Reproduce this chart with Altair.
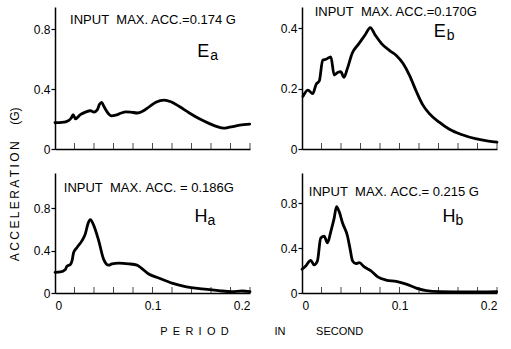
import altair as alt
import pandas as pd

# ---------------- data ----------------
ea_period = [0, 0.0072, 0.0141, 0.0168, 0.0186, 0.021, 0.026, 0.0313, 0.0364, 0.0399, 0.0433,
             0.0457, 0.0478, 0.0502, 0.0536, 0.058, 0.0622, 0.0674, 0.0725, 0.0777, 0.0845,
             0.0897, 0.0966, 0.1034, 0.112, 0.1189, 0.1275, 0.1378, 0.1481, 0.1584, 0.167,
             0.1729, 0.179, 0.1893, 0.1997]
ea_acc = [0.176, 0.178, 0.191, 0.209, 0.230, 0.202, 0.230, 0.247, 0.256, 0.247, 0.262,
          0.299, 0.312, 0.284, 0.247, 0.222, 0.226, 0.239, 0.249, 0.247, 0.241,
          0.252, 0.282, 0.312, 0.327, 0.316, 0.284, 0.241, 0.202, 0.170, 0.148,
          0.140, 0.146, 0.159, 0.166]

eb_period = [0.001, 0.006, 0.011, 0.0145, 0.0178, 0.0212, 0.0246, 0.0296, 0.033, 0.037, 0.0397,
             0.0431, 0.0465, 0.0515, 0.0582, 0.065, 0.07, 0.0751, 0.0818, 0.0902, 0.097,
             0.1037, 0.1104, 0.1172, 0.1239, 0.1306, 0.1407, 0.1508, 0.1643, 0.1778, 0.1912, 0.2]
eb_acc = [0.174, 0.195, 0.183, 0.214, 0.226, 0.294, 0.297, 0.305, 0.245, 0.254, 0.256,
          0.237, 0.266, 0.317, 0.348, 0.379, 0.402, 0.377, 0.348, 0.325, 0.309,
          0.283, 0.243, 0.191, 0.146, 0.117, 0.089, 0.066, 0.047, 0.034, 0.026, 0.023]

ha_period = [0, 0.0055, 0.0106, 0.0123, 0.0157, 0.0174, 0.0191, 0.0226, 0.0277, 0.0311, 0.0338,
             0.0362, 0.0397, 0.0448, 0.0499, 0.055, 0.0585, 0.0653, 0.0756, 0.0841, 0.0892,
             0.0961, 0.1063, 0.12, 0.1337, 0.1508, 0.1679, 0.1815, 0.1918, 0.2]
ha_acc = [0.195, 0.198, 0.221, 0.253, 0.269, 0.301, 0.381, 0.429, 0.493, 0.557, 0.653,
          0.691, 0.637, 0.493, 0.317, 0.262, 0.275, 0.282, 0.275, 0.262, 0.230,
          0.179, 0.141, 0.093, 0.061, 0.038, 0.022, 0.013, 0.019, 0.013]

hb_period = [0, 0.0038, 0.0089, 0.0124, 0.0158, 0.0192, 0.0227, 0.0261, 0.0296, 0.033, 0.0354,
             0.0381, 0.0416, 0.0467, 0.0491, 0.0519, 0.0553, 0.0588, 0.0639, 0.0708, 0.0777,
             0.0863, 0.0966, 0.1069, 0.1172, 0.1275, 0.1412, 0.1687, 0.1997]
hb_acc = [0.212, 0.241, 0.291, 0.250, 0.285, 0.491, 0.506, 0.447, 0.550, 0.668, 0.771,
          0.726, 0.624, 0.506, 0.403, 0.285, 0.262, 0.271, 0.232, 0.197, 0.144,
          0.115, 0.103, 0.079, 0.044, 0.021, 0.012, 0.009, 0.012]

x_tick_labels = [0, 0.1, 0.2]
x_minor_ticks = [0.02, 0.04, 0.06, 0.08, 0.1, 0.12, 0.14, 0.16, 0.18, 0.2]
y_ticks_big = [0, 0.2, 0.4, 0.6, 0.8]
y_labels_big = [0, 0.4, 0.8]
y_ticks_small = [0, 0.1, 0.2, 0.3, 0.4]
y_labels_small = [0, 0.2, 0.4]

notes = ["INPUT\u00a0\u00a0MAX. ACC.=0.174\u00a0G", "INPUT\u00a0\u00a0MAX. ACC.=0.170G",
         "INPUT\u00a0\u00a0MAX.\u00a0ACC.\u00a0=\u00a00.186G", "INPUT\u00a0\u00a0MAX.\u00a0ACC.=\u00a00.215\u00a0G"]
letters = ["E", "E", "H", "H"]
subs = ["a", "b", "a", "b"]

FONT = "Liberation Sans"
W = 195


def panel(xs, ys, ymax, yticks, ylabels, note, note_xy, letter, sub, letter_xy, bottom, height):
    df = pd.DataFrame({"period": xs, "acc": ys})
    xscale = alt.Scale(domain=[0, 0.2], nice=False)
    yscale = alt.Scale(domain=[0, ymax], nice=False)
    label_test = " || ".join(f"datum.value == {v}" for v in ylabels)
    xaxis = alt.Axis(values=x_tick_labels, labels=bottom, ticks=False, grid=False, title=None,
                     format="~g", labelPadding=7, labelFontSize=12,
                     minExtent=18 if bottom else 0, maxExtent=18 if bottom else 0)
    yaxis = alt.Axis(values=yticks, labelExpr=f"({label_test}) ? datum.label : ''",
                     grid=False, title=None, format="~g", tickSize=4, labelPadding=1,
                     labelFontSize=12, minExtent=30, maxExtent=30)
    X = alt.X("period:Q", scale=xscale, axis=xaxis)
    Y = alt.Y("acc:Q", scale=yscale, axis=yaxis)
    line = alt.Chart(df).mark_line(color="black", strokeWidth=2.8, interpolate="monotone",
                                   strokeJoin="round", strokeCap="round").encode(x=X, y=Y)
    ticks = alt.Chart(pd.DataFrame({"period": x_minor_ticks})).mark_tick(
        orient="vertical", size=6, thickness=1, color="black", yOffset=-3
    ).encode(x=X, y=alt.datum(0))
    one = pd.DataFrame({"k": [0]})
    txt = alt.Chart(one).mark_text(align="left", baseline="middle", font=FONT, fontSize=13,
                                   color="black").encode(
        x=alt.datum(note_xy[0]), y=alt.datum(note_xy[1]), text=alt.value(note))
    big = alt.Chart(one).mark_text(align="left", baseline="middle", font=FONT, fontSize=18,
                                   color="black").encode(
        x=alt.datum(letter_xy[0]), y=alt.datum(letter_xy[1]), text=alt.value(letter))
    small = alt.Chart(one).mark_text(align="left", baseline="middle", font=FONT, fontSize=14,
                                     color="black", dx=13, dy=4).encode(
        x=alt.datum(letter_xy[0]), y=alt.datum(letter_xy[1]), text=alt.value(sub))
    return alt.layer(line, ticks, txt, big, small).properties(width=W, height=height)


ea = panel(ea_period, ea_acc, 0.95, y_ticks_big, y_labels_big, notes[0], (0.0155, 0.86),
           letters[0], subs[0], (0.146, 0.65), False, 142)
eb = panel(eb_period, eb_acc, 0.47, y_ticks_small, y_labels_small, notes[1], (0.013, 0.455),
           letters[1], subs[1], (0.135, 0.386), False, 142)
ha = panel(ha_period, ha_acc, 1.13, y_ticks_big, y_labels_big, notes[2], (0.009, 0.99),
           letters[2], subs[2], (0.143, 0.714), True, 120)
hb = panel(hb_period, hb_acc, 1.07, y_ticks_big, y_labels_big, notes[3], (0.007, 0.9),
           letters[3], subs[3], (0.144, 0.68), True, 120)

nb = "\u00a0"
th = "\u2009"
ytitle = th.join("ACCELERATION") + nb * 5 + "(G)"
xtitle = (nb + th).join("PERIOD") + nb * 15 + "IN" + nb * 10 + "SECOND"

top = alt.hconcat(ea, eb, spacing=20)
bot = alt.hconcat(ha, hb, spacing=20)
inner = alt.vconcat(top, bot, spacing=18).properties(
    title=alt.TitleParams(ytitle, orient="left", anchor="middle", font=FONT, fontSize=12,
                          fontWeight="normal", color="black", offset=3, dx=-26))

chart = alt.vconcat(inner).properties(
    title=alt.TitleParams(xtitle, orient="bottom", anchor="middle", font=FONT, fontSize=11,
                          fontWeight="normal", color="black", offset=15, dx=8),
    padding={"left": 8, "top": 5, "right": 5, "bottom": 4},
).configure_view(stroke=None).configure_axis(
    domainColor="black", domainWidth=1.5, tickColor="black", tickWidth=1.2,
    labelColor="black", labelFont=FONT, grid=False
).configure_concat(spacing=0)

chart.save("out.html", embed_options={"renderer": "svg", "actions": False})
